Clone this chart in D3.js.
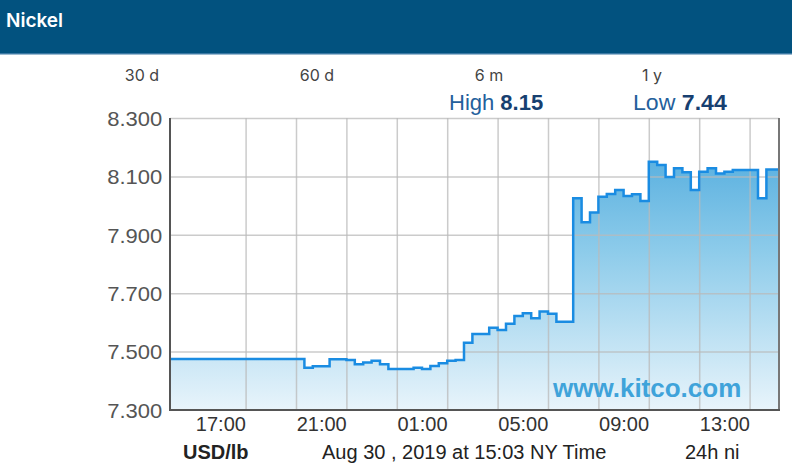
<!DOCTYPE html>
<html>
<head>
<meta charset="utf-8">
<script src="https://cdn.jsdelivr.net/npm/d3@7"></script>
<style>
  body { margin: 0; background: #fff; }
  svg { display: block; }
</style>
</head>
<body>
<div id="chart"></div>
<script>
(function() {
var width = 792,
  height = 466;

// chart data (price change points, USD/lb)
var title = "Nickel";
var tabs = ["30 d", "60 d", "6 m", "1 y"];
var times = [
  "2019-08-29 15:00", "2019-08-29 20:20", "2019-08-29 20:40", "2019-08-29 21:20",
  "2019-08-29 22:00", "2019-08-29 22:20", "2019-08-29 22:40", "2019-08-29 23:00",
  "2019-08-29 23:20", "2019-08-29 23:40", "2019-08-30 00:40", "2019-08-30 01:00",
  "2019-08-30 01:20", "2019-08-30 01:40", "2019-08-30 02:00", "2019-08-30 02:20",
  "2019-08-30 02:40", "2019-08-30 03:00", "2019-08-30 03:40", "2019-08-30 04:00",
  "2019-08-30 04:20", "2019-08-30 04:40", "2019-08-30 05:00", "2019-08-30 05:20",
  "2019-08-30 05:40", "2019-08-30 06:00", "2019-08-30 06:20", "2019-08-30 07:00",
  "2019-08-30 07:20", "2019-08-30 07:40", "2019-08-30 08:00", "2019-08-30 08:20",
  "2019-08-30 08:40", "2019-08-30 09:00", "2019-08-30 09:20", "2019-08-30 09:40",
  "2019-08-30 10:00", "2019-08-30 10:20", "2019-08-30 10:40", "2019-08-30 11:00",
  "2019-08-30 11:20", "2019-08-30 11:40", "2019-08-30 12:00", "2019-08-30 12:20",
  "2019-08-30 12:40", "2019-08-30 13:00", "2019-08-30 13:20", "2019-08-30 14:20",
  "2019-08-30 14:40", "2019-08-30 15:08"
];
var prices = [
  7.475, 7.445, 7.450, 7.474,
  7.471, 7.457, 7.463, 7.469,
  7.457, 7.440, 7.445, 7.440,
  7.451, 7.460, 7.469, 7.471,
  7.530, 7.560, 7.582, 7.574,
  7.595, 7.622, 7.631, 7.614,
  7.637, 7.630, 7.602, 8.025,
  7.943, 7.976, 8.030, 8.040,
  8.053, 8.033, 8.039, 8.016,
  8.150, 8.139, 8.098, 8.128,
  8.114, 8.053, 8.116, 8.128,
  8.110, 8.116, 8.122, 8.025,
  8.124, 8.124
];
var yTicks = [7.3, 7.5, 7.7, 7.9, 8.1, 8.3];
var xLabelTimes = ["2019-08-29 17:00", "2019-08-29 21:00", "2019-08-30 01:00",
  "2019-08-30 05:00", "2019-08-30 09:00", "2019-08-30 13:00"];
var highValue = "8.15",
  lowValue = "7.44";
var unitLabel = "USD/lb",
  stampLabel = "Aug 30 , 2019 at 15:03 NY Time",
  rangeLabel = "24h ni",
  watermark = "www.kitco.com";

var parseTime = d3.timeParse("%Y-%m-%d %H:%M");

var data = times.map(function(t, i) {
  return { date: parseTime(t), price: prices[i] };
});

var plot = { left: 170, right: 779, top: 118, bottom: 410 };
var chartFont = "'Liberation Sans', Arial, sans-serif";
var uiFont = "Inter, 'Noto Sans', sans-serif";

var svg = d3.select("#chart")
  .append("svg")
  .attr("width", width)
  .attr("height", height);

// header bar
svg.append("rect")
  .attr("x", 0).attr("y", 0)
  .attr("width", width).attr("height", 53)
  .attr("fill", "#02527f");
svg.append("rect")
  .attr("x", 0).attr("y", 53)
  .attr("width", width).attr("height", 1.5)
  .attr("fill", "#3b78a3");
svg.append("text")
  .attr("x", 6).attr("y", 27)
  .attr("fill", "#fff")
  .style("font-family", uiFont)
  .style("font-size", "19px")
  .style("font-weight", 600)
  .text(title);

// range tabs
var tabX = { "30 d": 142, "60 d": 317, "6 m": 489, "1 y": 652 };
svg.selectAll(".tab")
  .data(tabs)
  .enter().append("text")
  .attr("class", "tab")
  .attr("x", function(d) { return tabX[d]; })
  .attr("y", 81)
  .attr("text-anchor", "middle")
  .attr("fill", "#444")
  .style("font-family", uiFont)
  .style("font-size", "16px")
  .text(function(d) { return d; });

// scales
var xScale = d3.scaleTime()
  .domain([parseTime("2019-08-29 15:00"), parseTime("2019-08-30 15:10")])
  .range([plot.left, plot.right]);

var yScale = d3.scaleLinear()
  .domain([7.3, 8.3])
  .range([plot.bottom, plot.top]);

// gradient fill
var defs = svg.append("defs");
var grad = defs.append("linearGradient")
  .attr("id", "fillGrad")
  .attr("gradientUnits", "userSpaceOnUse")
  .attr("x1", 0).attr("x2", 0)
  .attr("y1", plot.top).attr("y2", plot.bottom);
grad.append("stop").attr("offset", "0%").attr("stop-color", "#45a5db");
grad.append("stop").attr("offset", "45%").attr("stop-color", "#8ccbea");
grad.append("stop").attr("offset", "100%").attr("stop-color", "#e8f4fb");

var area = d3.area()
  .curve(d3.curveStepAfter)
  .x(function(d) { return xScale(d.date); })
  .y0(yScale(7.3))
  .y1(function(d) { return yScale(d.price); });

var line = d3.line()
  .curve(d3.curveStepAfter)
  .x(function(d) { return xScale(d.date); })
  .y(function(d) { return yScale(d.price); });

svg.append("path")
  .datum(data)
  .attr("d", area)
  .attr("fill", "url(#fillGrad)");

// grid
var gridTimes = d3.timeHour.every(2).range(parseTime("2019-08-29 17:00"), parseTime("2019-08-30 15:00"));

svg.append("g")
  .attr("class", "grid-x")
  .attr("transform", "translate(0," + plot.bottom + ")")
  .call(d3.axisBottom(xScale)
    .tickValues(gridTimes)
    .tickSize(-(plot.bottom - plot.top))
    .tickFormat(""))
  .call(function(g) { g.select(".domain").remove(); })
  .selectAll("line")
  .attr("stroke", "#b9b9b9")
  .attr("stroke-width", 1.5)
  .attr("stroke-opacity", 0.75);

svg.append("g")
  .attr("class", "grid-y")
  .attr("transform", "translate(" + plot.left + ",0)")
  .call(d3.axisLeft(yScale)
    .tickValues(yTicks.slice(1))
    .tickSize(-(plot.right - plot.left))
    .tickFormat(""))
  .call(function(g) { g.select(".domain").remove(); })
  .selectAll("line")
  .attr("stroke", "#b9b9b9")
  .attr("stroke-width", 1.5)
  .attr("stroke-opacity", 0.75);

// price line
svg.append("path")
  .datum(data)
  .attr("d", line)
  .attr("fill", "none")
  .attr("stroke", "#1a8ce2")
  .attr("stroke-width", 2.5);

// frame
svg.append("line")
  .attr("x1", plot.right).attr("x2", plot.right)
  .attr("y1", plot.top).attr("y2", plot.bottom)
  .attr("stroke", "#777").attr("stroke-width", 2);
svg.append("line")
  .attr("x1", plot.left).attr("x2", plot.left)
  .attr("y1", plot.top).attr("y2", plot.bottom + 1)
  .attr("stroke", "#555").attr("stroke-width", 2);
svg.append("line")
  .attr("x1", plot.left - 1).attr("x2", plot.right + 1)
  .attr("y1", plot.bottom).attr("y2", plot.bottom)
  .attr("stroke", "#555").attr("stroke-width", 2);

// y axis labels
svg.append("g")
  .attr("class", "y-axis")
  .attr("transform", "translate(" + plot.left + ",0)")
  .call(d3.axisLeft(yScale)
    .tickValues(yTicks)
    .tickSize(0)
    .tickPadding(7)
    .tickFormat(d3.format(".3f")))
  .call(function(g) { g.select(".domain").remove(); })
  .selectAll("text")
  .attr("dy", "0.36em")
  .attr("transform", "scale(1.1,1)")
  .attr("fill", "#555")
  .style("font-family", chartFont)
  .style("font-size", "20px");

// x axis labels
svg.append("g")
  .attr("class", "x-axis")
  .attr("transform", "translate(0," + plot.bottom + ")")
  .call(d3.axisBottom(xScale)
    .tickValues(xLabelTimes.map(parseTime))
    .tickSize(0)
    .tickPadding(7)
    .tickFormat(d3.timeFormat("%H:%M")))
  .call(function(g) { g.select(".domain").remove(); })
  .selectAll("text")
  .attr("fill", "#333")
  .style("font-family", chartFont)
  .style("font-size", "20px");

// watermark
svg.append("text")
  .attr("x", 553).attr("y", 397)
  .attr("fill", "#3fa3da")
  .style("font-family", chartFont)
  .style("font-size", "26px")
  .style("font-weight", "bold")
  .text(watermark);

// high / low
var hl = svg.append("g")
  .style("font-family", chartFont)
  .style("font-size", "22px");
var highText = hl.append("text").attr("x", 449).attr("y", 110).attr("fill", "#24609c");
highText.append("tspan").text("High ");
highText.append("tspan").attr("fill", "#173f70").style("font-weight", "bold").text(highValue);
var lowText = hl.append("text").attr("x", 633).attr("y", 110).attr("fill", "#24609c")
  .attr("transform", "translate(633,0) scale(1.05,1) translate(-633,0)");
lowText.append("tspan").text("Low ");
lowText.append("tspan").attr("fill", "#173f70").style("font-weight", "bold").text(lowValue);

// footer
var foot = svg.append("g")
  .attr("fill", "#222")
  .style("font-family", chartFont)
  .style("font-size", "20px");
foot.append("text").attr("x", 183).attr("y", 459).style("font-weight", "bold").text(unitLabel);
foot.append("text").attr("x", 322).attr("y", 459).text(stampLabel);
foot.append("text").attr("x", 685).attr("y", 459).text(rangeLabel);
})();
</script>
</body>
</html>
